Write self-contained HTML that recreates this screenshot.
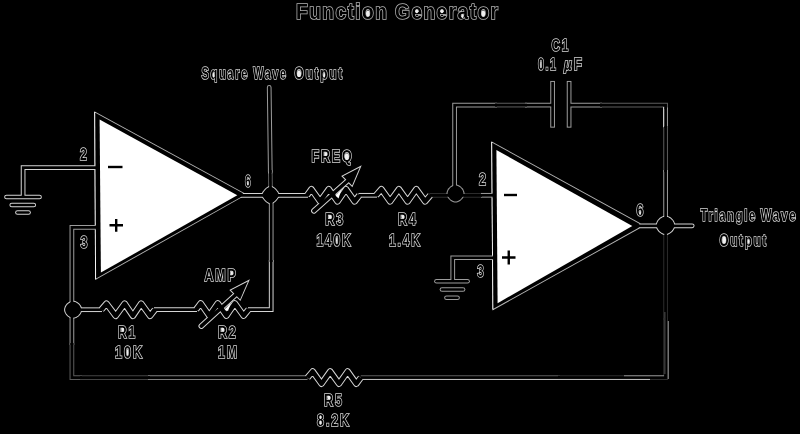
<!DOCTYPE html>
<html>
<head>
<meta charset="utf-8">
<title>Function Generator</title>
<style>
  html, body { margin: 0; padding: 0; background: #000; }
  body { width: 800px; height: 434px; overflow: hidden; }
  svg { display: block; filter: grayscale(1); }
  text { font-family: "Liberation Sans", sans-serif; font-weight: bold; fill: #000; stroke: #d8d8d8; stroke-width: 1.6; paint-order: stroke; }
  .t { font-weight: bold; font-size: 21.5px; stroke: #b4b4b4; stroke-width: 1.6; }
</style>
</head>
<body>
<svg width="800" height="434" viewBox="0 0 800 434">
  <rect x="0" y="0" width="800" height="434" fill="#000"/>

  <polygon points="94.30,111.30 244.20,193.00 241.60,197.60 95.20,280.00" fill="#b4b4b4"/>
  <path d="M94.85 112.1 L95.75 279.2" stroke="#f4f4f4" stroke-width="1.3" fill="none"/>
  <polygon points="491.30,141.30 640.40,223.30 639.50,228.40 492.50,310.40" fill="#b4b4b4"/>
  <path d="M491.85 142.10000000000002 L493.05 309.59999999999997" stroke="#f4f4f4" stroke-width="1.3" fill="none"/>
  <g fill="none" stroke-width="4.7" stroke-linejoin="miter">
    <path d="M23.1 197 V167.7 H96" stroke="#d4d4d4" />
    <path d="M96 227.4 H71.9 V300" stroke="#9c9c9c" />
    <path d="M71.9 300 V345" stroke="#9c9c9c" />
    <path d="M71.9 343 V377.6 H82" stroke="#5c5c5c" />
    <path d="M80 377.6 H150" stroke="#444444" />
    <path d="M148 377.6 H307.5" stroke="#808080" />
    <path d="M360.8 377.6 H560" stroke="#5c5c5c" />
    <path d="M558 377.6 H665.6 V318" stroke="#2c2c2c" />
    <path d="M665.6 320 V234" stroke="#2c2c2c" />
    <path d="M72 309.7 H102" stroke="#d4d4d4" />
    <path d="M154 309.7 H197" stroke="#d4d4d4" />
    <path d="M248 309.6 H271.2 V260" stroke="#d4d4d4" />
    <path d="M271.2 262 V195" stroke="#9c9c9c" />
    <path d="M240 195.3 H308" stroke="#d4d4d4" />
    <path d="M358.5 195.3 H377" stroke="#d4d4d4" />
    <path d="M429.5 195.3 H482" stroke="#2c2c2c" />
    <path d="M481 195.3 H493" stroke="#9c9c9c" />
    <path d="M270.6 195 L270.3 170" stroke="#5c5c5c" />
    <path d="M270.3 172 L269.2 87.4" stroke="#9c9c9c" stroke-linecap="round"/>
    <path d="M454.6 194 V105.1 H497" stroke="#9c9c9c" />
    <path d="M495 105.1 H527" stroke="#5c5c5c" />
    <path d="M525 105.1 H552.6" stroke="#9c9c9c" />
    <path d="M569.1 105.1 H602" stroke="#9c9c9c" />
    <path d="M600 105.1 H665.6 V109" stroke="#5c5c5c" />
    <path d="M665.6 107.5 V128" stroke="#9c9c9c" />
    <path d="M665.6 126 V172" stroke="#5c5c5c" />
    <path d="M665.6 170 V225" stroke="#9c9c9c" />
    <path d="M552.6 83.3 V125.3" stroke="#9c9c9c" stroke-linecap="square"/>
    <path d="M569.1 83.3 V125.3" stroke="#9c9c9c" stroke-linecap="square"/>
    <path d="M636 225.85 H692.2" stroke="#d4d4d4" stroke-linecap="round"/>
    <path d="M493 257.75 H452.75 V281" stroke="#9c9c9c" />
    <path d="M6.5 197 H39.5" stroke="#d4d4d4" stroke-linecap="round"/>
    <path d="M11.75 205 H33.75" stroke="#d4d4d4" stroke-linecap="round"/>
    <path d="M17.5 212.5 H28.5" stroke="#d4d4d4" stroke-linecap="round"/>
    <path d="M436.5 281.25 H467.5" stroke="#9c9c9c" stroke-linecap="round"/>
    <path d="M442 289.5 H463" stroke="#9c9c9c" stroke-linecap="round"/>
    <path d="M446.5 297.75 H457.5" stroke="#9c9c9c" stroke-linecap="round"/>
  </g>
  <g fill="none" stroke-width="6.5" stroke-linejoin="round">
    <path d="M307 195.3 L311.4 189.20 L320.1 201.40 L328.8 189.20 L337.5 201.40 L346.0 189.20 L354.6 201.40 L359.3 195.3" stroke="#d4d4d4"/>
    <path d="M376.1 195.3 L381.4 189.20 L390.1 201.40 L398.9 189.20 L407.6 201.40 L416.3 189.20 L425.1 201.40 L430.3 195.3" stroke="#d4d4d4"/>
    <path d="M101.3 309.7 L106.5 303.60 L115.7 315.80 L124.6 303.60 L132.9 315.80 L141.2 303.60 L150.1 315.80 L154.9 309.7" stroke="#d4d4d4"/>
    <path d="M196.1 309.5 L200.7 303.40 L209.3 315.60 L217.8 303.40 L226.4 315.60 L234.8 303.40 L243.6 315.60 L248.6 309.5" stroke="#d4d4d4"/>
    <path d="M307.5 377.6 L312.7 371.50 L321.5 383.70 L330.2 371.50 L339 383.70 L347.6 371.50 L356.3 383.70 L360.8 377.6" stroke="#d4d4d4"/>
  </g>
  <g fill="none" stroke-width="5.6" stroke-linecap="round">
    <path d="M313.9 210.8 L348 180.5" stroke="#d4d4d4"/>
    <path d="M201.3 326.1 L236 294.5" stroke="#d4d4d4"/>
  </g>
  <polygon points="279.70,195.00 279.59,195.57 279.27,196.47 278.75,197.53 278.04,198.65 277.19,199.79 276.20,200.89 275.14,201.90 274.04,202.79 272.95,203.52 271.93,204.06 271.05,204.39 270.50,204.50 269.95,204.39 269.07,204.06 268.05,203.52 266.96,202.79 265.86,201.90 264.80,200.89 263.81,199.79 262.96,198.65 262.25,197.53 261.73,196.47 261.41,195.57 261.30,195.00 261.41,194.43 261.73,193.53 262.25,192.47 262.96,191.35 263.81,190.21 264.80,189.11 265.86,188.10 266.96,187.21 268.05,186.48 269.07,185.94 269.95,185.61 270.50,185.50 271.05,185.61 271.93,185.94 272.95,186.48 274.04,187.21 275.14,188.10 276.20,189.11 277.19,190.21 278.04,191.35 278.75,192.47 279.27,193.53 279.59,194.43" fill="#d4d4d4"/>
  <polygon points="464.50,193.50 464.41,194.44 464.16,195.50 463.74,196.60 463.17,197.67 462.46,198.68 461.62,199.62 460.68,200.46 459.67,201.17 458.60,201.74 457.50,202.16 456.44,202.41 455.50,202.50 454.56,202.41 453.50,202.16 452.40,201.74 451.33,201.17 450.32,200.46 449.38,199.62 448.54,198.68 447.83,197.67 447.26,196.60 446.84,195.50 446.59,194.44 446.50,193.50 446.59,192.56 446.84,191.50 447.26,190.40 447.83,189.33 448.54,188.32 449.38,187.38 450.32,186.54 451.33,185.83 452.40,185.26 453.50,184.84 454.56,184.59 455.50,184.50 456.44,184.59 457.50,184.84 458.60,185.26 459.67,185.83 460.68,186.54 461.62,187.38 462.46,188.32 463.17,189.33 463.74,190.40 464.16,191.50 464.41,192.56" fill="#9c9c9c"/>
  <polygon points="675.20,225.30 675.11,226.31 674.83,227.46 674.38,228.64 673.77,229.79 673.00,230.89 672.10,231.90 671.09,232.80 669.99,233.57 668.84,234.18 667.66,234.63 666.51,234.91 665.50,235.00 664.49,234.91 663.34,234.63 662.16,234.18 661.01,233.57 659.91,232.80 658.90,231.90 658.00,230.89 657.23,229.79 656.62,228.64 656.17,227.46 655.89,226.31 655.80,225.30 655.89,224.29 656.17,223.14 656.62,221.96 657.23,220.81 658.00,219.71 658.90,218.70 659.91,217.80 661.01,217.03 662.16,216.42 663.34,215.97 664.49,215.69 665.50,215.60 666.51,215.69 667.66,215.97 668.84,216.42 669.99,217.03 671.09,217.80 672.10,218.70 673.00,219.71 673.77,220.81 674.38,221.96 674.83,223.14 675.11,224.29" fill="#d4d4d4"/>
  <polygon points="82.10,309.70 82.01,310.64 81.76,311.70 81.34,312.80 80.77,313.87 80.06,314.88 79.22,315.82 78.28,316.66 77.27,317.37 76.20,317.94 75.10,318.36 74.04,318.61 73.10,318.70 72.16,318.61 71.10,318.36 70.00,317.94 68.93,317.37 67.92,316.66 66.98,315.82 66.14,314.88 65.43,313.87 64.86,312.80 64.44,311.70 64.19,310.64 64.10,309.70 64.19,308.76 64.44,307.70 64.86,306.60 65.43,305.53 66.14,304.52 66.98,303.58 67.92,302.74 68.93,302.03 70.00,301.46 71.10,301.04 72.16,300.79 73.10,300.70 74.04,300.79 75.10,301.04 76.20,301.46 77.27,302.03 78.28,302.74 79.22,303.58 80.06,304.52 80.77,305.53 81.34,306.60 81.76,307.70 82.01,308.76" fill="#d4d4d4"/>
  <polygon points="361.7,165.2 341.2,176 352.4,187.2" fill="#d4d4d4"/>
  <polygon points="249.9,279.2 229.3,290 240.4,301.1" fill="#d4d4d4"/>
  <polygon points="95.21,112.82 242.97,193.35 240.94,196.94 96.09,278.47" fill="#000"/>
  <polygon points="99.60,119.40 237.30,195.30 100.90,272.60" fill="#fff"/>
  <polygon points="492.21,142.83 639.40,223.78 638.69,227.82 493.39,308.87" fill="#000"/>
  <polygon points="496.40,149.90 632.30,226.10 497.60,303.20" fill="#fff"/>
  <g fill="none" stroke="#000" stroke-width="2.7" stroke-linejoin="miter">
    <path d="M23.1 197 V167.7 H96" />
    <path d="M96 227.4 H71.9 V300" />
    <path d="M71.9 300 V345" />
    <path d="M71.9 343 V377.6 H82" />
    <path d="M80 377.6 H150" />
    <path d="M148 377.6 H307.5" />
    <path d="M360.8 377.6 H560" />
    <path d="M558 377.6 H665.6 V318" />
    <path d="M665.6 320 V234" />
    <path d="M72 309.7 H102" />
    <path d="M154 309.7 H197" />
    <path d="M248 309.6 H271.2 V260" />
    <path d="M271.2 262 V195" />
    <path d="M240 195.3 H308" />
    <path d="M358.5 195.3 H377" />
    <path d="M429.5 195.3 H482" />
    <path d="M481 195.3 H493" />
    <path d="M270.6 195 L270.3 170" />
    <path d="M270.3 172 L269.2 87.4" stroke-linecap="round"/>
    <path d="M454.6 194 V105.1 H497" />
    <path d="M495 105.1 H527" />
    <path d="M525 105.1 H552.6" />
    <path d="M569.1 105.1 H602" />
    <path d="M600 105.1 H665.6 V109" />
    <path d="M665.6 107.5 V128" />
    <path d="M665.6 126 V172" />
    <path d="M665.6 170 V225" />
    <path d="M552.6 83.3 V125.3" stroke-linecap="square"/>
    <path d="M569.1 83.3 V125.3" stroke-linecap="square"/>
    <path d="M636 225.85 H692.2" stroke-linecap="round"/>
    <path d="M493 257.75 H452.75 V281" />
    <path d="M6.5 197 H39.5" stroke-linecap="round"/>
    <path d="M11.75 205 H33.75" stroke-linecap="round"/>
    <path d="M17.5 212.5 H28.5" stroke-linecap="round"/>
    <path d="M436.5 281.25 H467.5" stroke-linecap="round"/>
    <path d="M442 289.5 H463" stroke-linecap="round"/>
    <path d="M446.5 297.75 H457.5" stroke-linecap="round"/>
  </g>
  <path d="M361 379.45 H650" stroke="#c4c4c4" stroke-width="1.0" fill="none"/>
  <path d="M624 375.75 H664" stroke="#9a9a9a" stroke-width="0.9" fill="none"/>
  <path d="M668.3 321 V379" stroke="#a0a0a0" stroke-width="0.9" fill="none"/>
  <path d="M664.9 312 V374" stroke="#5a5a5a" stroke-width="0.9" fill="none"/>
  <path d="M663.6 107 V127" stroke="#d0d0d0" stroke-width="1.0" fill="none"/>
  <g fill="none" stroke="#000" stroke-width="4.5" stroke-linejoin="round">
    <path d="M307 195.3 L311.4 189.20 L320.1 201.40 L328.8 189.20 L337.5 201.40 L346.0 189.20 L354.6 201.40 L359.3 195.3"/>
    <path d="M376.1 195.3 L381.4 189.20 L390.1 201.40 L398.9 189.20 L407.6 201.40 L416.3 189.20 L425.1 201.40 L430.3 195.3"/>
    <path d="M101.3 309.7 L106.5 303.60 L115.7 315.80 L124.6 303.60 L132.9 315.80 L141.2 303.60 L150.1 315.80 L154.9 309.7"/>
    <path d="M196.1 309.5 L200.7 303.40 L209.3 315.60 L217.8 303.40 L226.4 315.60 L234.8 303.40 L243.6 315.60 L248.6 309.5"/>
    <path d="M307.5 377.6 L312.7 371.50 L321.5 383.70 L330.2 371.50 L339 383.70 L347.6 371.50 L356.3 383.70 L360.8 377.6"/>
  </g>
  <g fill="none" stroke="#000" stroke-width="3.6" stroke-linecap="round">
    <path d="M313.9 210.8 L348 180.5"/>
    <path d="M201.3 326.1 L236 294.5"/>
  </g>
  <g fill="#000">
  <polygon points="278.70,195.00 278.60,195.51 278.32,196.32 277.85,197.26 277.22,198.27 276.46,199.29 275.58,200.27 274.64,201.18 273.65,201.97 272.68,202.62 271.77,203.10 270.99,203.40 270.50,203.50 270.01,203.40 269.23,203.10 268.32,202.62 267.35,201.97 266.36,201.18 265.42,200.27 264.54,199.29 263.78,198.27 263.15,197.26 262.68,196.32 262.40,195.51 262.30,195.00 262.40,194.49 262.68,193.68 263.15,192.74 263.78,191.73 264.54,190.71 265.42,189.73 266.36,188.82 267.35,188.03 268.32,187.38 269.23,186.90 270.01,186.60 270.50,186.50 270.99,186.60 271.77,186.90 272.68,187.38 273.65,188.03 274.64,188.82 275.58,189.73 276.46,190.71 277.22,191.73 277.85,192.74 278.32,193.68 278.60,194.49" fill="#000"/>
  <polygon points="463.50,193.50 463.42,194.33 463.20,195.28 462.83,196.25 462.32,197.20 461.69,198.11 460.94,198.94 460.11,199.69 459.20,200.32 458.25,200.83 457.28,201.20 456.33,201.42 455.50,201.50 454.67,201.42 453.72,201.20 452.75,200.83 451.80,200.32 450.89,199.69 450.06,198.94 449.31,198.11 448.68,197.20 448.17,196.25 447.80,195.28 447.58,194.33 447.50,193.50 447.58,192.67 447.80,191.72 448.17,190.75 448.68,189.80 449.31,188.89 450.06,188.06 450.89,187.31 451.80,186.68 452.75,186.17 453.72,185.80 454.67,185.58 455.50,185.50 456.33,185.58 457.28,185.80 458.25,186.17 459.20,186.68 460.11,187.31 460.94,188.06 461.69,188.89 462.32,189.80 462.83,190.75 463.20,191.72 463.42,192.67" fill="#000"/>
  <polygon points="674.20,225.30 674.12,226.21 673.87,227.24 673.47,228.29 672.91,229.33 672.23,230.31 671.42,231.22 670.51,232.03 669.53,232.71 668.49,233.27 667.44,233.67 666.41,233.92 665.50,234.00 664.59,233.92 663.56,233.67 662.51,233.27 661.47,232.71 660.49,232.03 659.58,231.22 658.77,230.31 658.09,229.33 657.53,228.29 657.13,227.24 656.88,226.21 656.80,225.30 656.88,224.39 657.13,223.36 657.53,222.31 658.09,221.27 658.77,220.29 659.58,219.38 660.49,218.57 661.47,217.89 662.51,217.33 663.56,216.93 664.59,216.68 665.50,216.60 666.41,216.68 667.44,216.93 668.49,217.33 669.53,217.89 670.51,218.57 671.42,219.38 672.23,220.29 672.91,221.27 673.47,222.31 673.87,223.36 674.12,224.39" fill="#000"/>
  <polygon points="81.10,309.70 81.02,310.53 80.80,311.48 80.43,312.45 79.92,313.40 79.29,314.31 78.54,315.14 77.71,315.89 76.80,316.52 75.85,317.03 74.88,317.40 73.93,317.62 73.10,317.70 72.27,317.62 71.32,317.40 70.35,317.03 69.40,316.52 68.49,315.89 67.66,315.14 66.91,314.31 66.28,313.40 65.77,312.45 65.40,311.48 65.18,310.53 65.10,309.70 65.18,308.87 65.40,307.92 65.77,306.95 66.28,306.00 66.91,305.09 67.66,304.26 68.49,303.51 69.40,302.88 70.35,302.37 71.32,302.00 72.27,301.78 73.10,301.70 73.93,301.78 74.88,302.00 75.85,302.37 76.80,302.88 77.71,303.51 78.54,304.26 79.29,305.09 79.92,306.00 80.43,306.95 80.80,307.92 81.02,308.87" fill="#000"/>
    <polygon points="359.7,167.4 342.9,176.3 352.1,185.4"/>
    <polygon points="247.9,281.4 231.0,290.3 240.1,299.4"/>
  </g>
  <polygon points="335.5,195.5 341.5,189.5 338.5,198.5" fill="#fff"/>
  <polygon points="224.7,309.5 231,302.5 228,311" fill="#fff"/>
  <g stroke="#000" stroke-width="2.4" fill="none">
    <path d="M108 167 H122.5"/>
    <path d="M109.5 225.3 H123 M116.2 219 V231.7"/>
    <path d="M504 195 H517"/>
    <path d="M502 257.5 H515.5 M508.75 250.5 V264.5"/>
  </g>

  <text class="t" x="296" y="19.2" textLength="203.5" letter-spacing="1.6" lengthAdjust="spacingAndGlyphs">Function Generator</text>
  <g font-size="16" letter-spacing="2.4" word-spacing="-3.5">
    <text x="201.4" y="79.4" textLength="47.6" word-spacing="2.5" lengthAdjust="spacingAndGlyphs">Square</text>
    <text x="253.3" y="79.4" textLength="34.3" lengthAdjust="spacingAndGlyphs">Wave</text>
    <text x="294.4" y="79.4" textLength="49.5" lengthAdjust="spacingAndGlyphs">Output</text>
    <text x="79.9" y="160.3" textLength="8.6" lengthAdjust="spacingAndGlyphs">2</text>
    <text x="80.4" y="248" textLength="8.8" lengthAdjust="spacingAndGlyphs">3</text>
    <text x="245.0" y="186.8" textLength="7.2" lengthAdjust="spacingAndGlyphs">6</text>
    <text x="478.9" y="185" textLength="8.8" lengthAdjust="spacingAndGlyphs">2</text>
    <text x="477.3" y="276.8" textLength="8.2" lengthAdjust="spacingAndGlyphs">3</text>
    <text x="636.6" y="216.3" textLength="8.8" lengthAdjust="spacingAndGlyphs">6</text>
    <text x="311.4" y="162.3" textLength="42.2" lengthAdjust="spacingAndGlyphs">FREQ</text>
    <text x="204.6" y="281.3" textLength="33.0" lengthAdjust="spacingAndGlyphs">AMP</text>
    <text x="325.2" y="225.2" textLength="20.0" lengthAdjust="spacingAndGlyphs">R3</text>
    <text x="316.4" y="246" textLength="36.0" lengthAdjust="spacingAndGlyphs">140K</text>
    <text x="398.1" y="225.1" textLength="19.6" lengthAdjust="spacingAndGlyphs">R4</text>
    <text x="388.9" y="245.5" textLength="33.0" lengthAdjust="spacingAndGlyphs">1.4K</text>
    <text x="118.1" y="338" textLength="18.8" lengthAdjust="spacingAndGlyphs">R1</text>
    <text x="115.1" y="358" textLength="28.8" lengthAdjust="spacingAndGlyphs">10K</text>
    <text x="217.9" y="337.9" textLength="19.7" lengthAdjust="spacingAndGlyphs">R2</text>
    <text x="218.1" y="357.8" textLength="20.8" lengthAdjust="spacingAndGlyphs">1M</text>
    <text x="324.1" y="405.8" textLength="19.8" lengthAdjust="spacingAndGlyphs">R5</text>
    <text x="317.1" y="425.8" textLength="33.8" lengthAdjust="spacingAndGlyphs">8.2K</text>
    <text x="551.6" y="51.2" textLength="18.4" lengthAdjust="spacingAndGlyphs">C1</text>
    <text x="537.9" y="70.3" textLength="19.6" lengthAdjust="spacingAndGlyphs">0.1</text>
    <text x="563.9" y="70.3" textLength="20.0" lengthAdjust="spacingAndGlyphs"><tspan font-style="italic">µ</tspan>F</text>
    <text x="700.6" y="221" textLength="56.4" lengthAdjust="spacingAndGlyphs">Triangle</text>
    <text x="760.4" y="221" textLength="37.2" lengthAdjust="spacingAndGlyphs">Wave</text>
    <text x="719.6" y="245.7" textLength="48.3" lengthAdjust="spacingAndGlyphs">Output</text>
  </g>
<g fill="#f0f0f0">
    <ellipse cx="367.89" cy="13.50" rx="1.87" ry="3.05"/>
    <ellipse cx="416.72" cy="11.45" rx="1.55" ry="1.83"/>
    <ellipse cx="441.94" cy="11.45" rx="1.55" ry="1.83"/>
    <ellipse cx="462.48" cy="16.12" rx="1.16" ry="2.06"/>
    <ellipse cx="483.33" cy="13.50" rx="1.87" ry="3.05"/>
    <ellipse cx="213.52" cy="75.16" rx="0.90" ry="2.31"/>
    <ellipse cx="299.01" cy="73.67" rx="1.97" ry="3.34"/>
    <ellipse cx="324.11" cy="75.16" rx="0.96" ry="2.31"/>
    <ellipse cx="247.84" cy="183.36" rx="0.65" ry="2.20"/>
    <ellipse cx="640.07" cy="212.86" rx="0.82" ry="2.20"/>
    <ellipse cx="325.67" cy="154.05" rx="1.54" ry="1.90"/>
    <ellipse cx="346.86" cy="156.57" rx="2.09" ry="3.34"/>
    <ellipse cx="231.87" cy="273.05" rx="1.18" ry="1.90"/>
    <ellipse cx="330.03" cy="216.95" rx="1.56" ry="1.90"/>
    <ellipse cx="336.75" cy="240.27" rx="0.67" ry="3.34"/>
    <ellipse cx="402.83" cy="216.85" rx="1.53" ry="1.90"/>
    <ellipse cx="122.64" cy="329.75" rx="1.47" ry="1.90"/>
    <ellipse cx="127.51" cy="352.27" rx="0.71" ry="3.34"/>
    <ellipse cx="222.66" cy="329.65" rx="1.54" ry="1.90"/>
    <ellipse cx="328.88" cy="397.55" rx="1.54" ry="1.90"/>
    <ellipse cx="320.57" cy="417.32" rx="0.82" ry="1.74"/>
    <ellipse cx="320.57" cy="422.71" rx="0.95" ry="2.08"/>
    <ellipse cx="540.86" cy="64.57" rx="0.58" ry="3.34"/>
    <ellipse cx="724.10" cy="239.97" rx="1.92" ry="3.34"/>
    <ellipse cx="748.59" cy="241.46" rx="0.94" ry="2.31"/>
  </g>
</svg>
</body>
</html>
